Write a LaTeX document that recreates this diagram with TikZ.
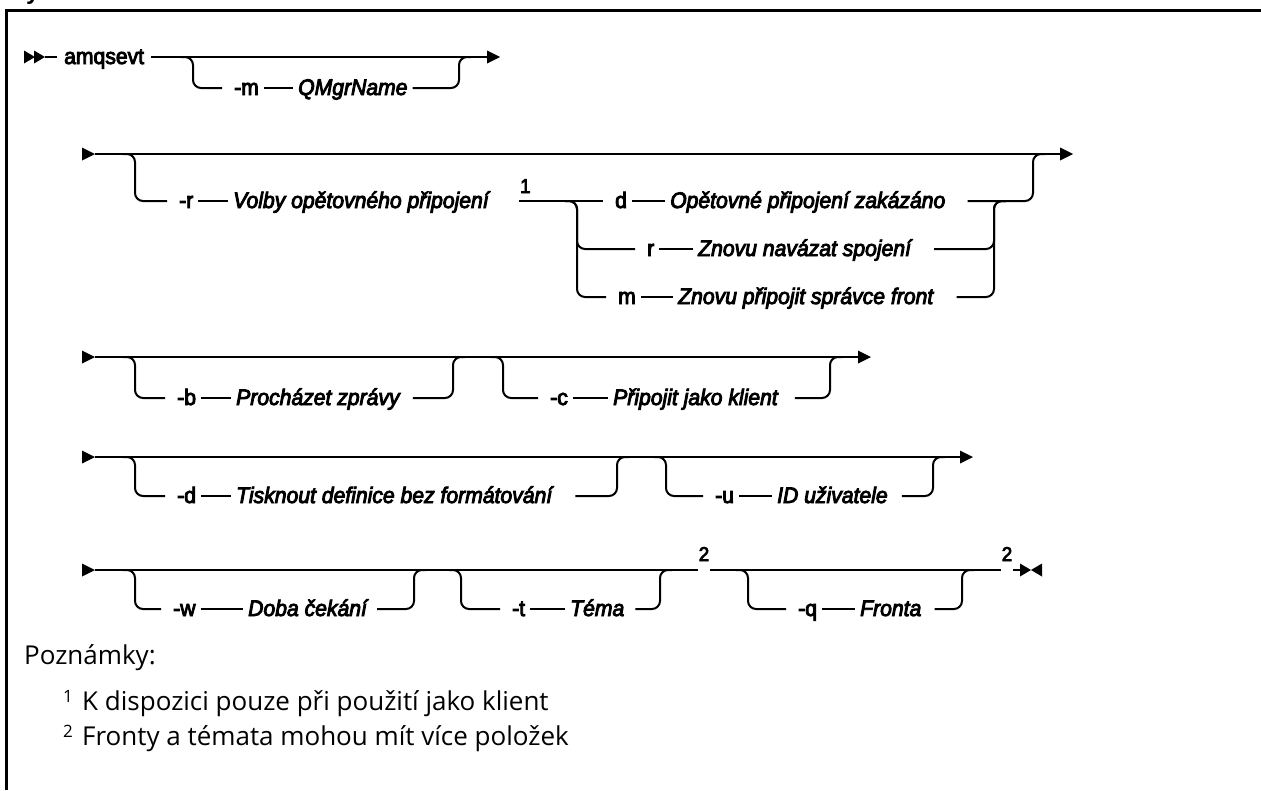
\documentclass[tikz,border=0pt]{standalone}
\usepackage{fontspec}
\setmainfont{Liberation Sans}[FakeBold=4, FakeStretch=0.94]
\newfontfamily\notefont{Open Sans}
\newfontfamily\headfont{Liberation Sans}
\usetikzlibrary{calc}
\tikzset{
  ln/.style={line width=2pt},
  br/.style={line width=2pt, rounded corners=8pt},
  frameline/.style={line width=2.7pt},
  txt/.style={inner xsep=5pt, inner ysep=0pt, text height=17pt, text depth=3pt, anchor=west, font=\fontsize{22.5}{26}\selectfont},
  flag/.style={txt},
  lab/.style={txt, font=\fontsize{22.5}{26}\selectfont\itshape},
  refnum/.style={inner xsep=1pt, inner ysep=0pt, anchor=base, font=\fontsize{20}{22}\selectfont},
  notetxt/.style={inner sep=0pt, anchor=base west, font=\notefont\fontsize{26}{30}\selectfont},
  notesup/.style={inner sep=0pt, anchor=base west, font=\notefont\fontsize{17}{19}\selectfont},
  rtri/.pic={\fill (-13,-6.5) -- (0,0) -- (-13,6.5) -- cycle;},
  ltri/.pic={\fill (11,-6.5) -- (0,0) -- (11,6.5) -- cycle;},
  rtris/.pic={\fill (-11,-6.5) -- (0,0) -- (-11,6.5) -- cycle;},
  into/.style={shorten >=7pt},
  outof/.style={shorten <=#1},
}
\begin{document}
\begin{tikzpicture}[x=1pt,y=-1pt]
\useasboundingbox (0,0) rectangle (1261,790);
% frame
\coordinate (fbl) at (6.5,790);
\coordinate (ftl) at (6.5,10.8);
\coordinate (ftr) at (1261,10.8);
\draw[frameline] (fbl) -- (ftl) -- (ftr);
\begin{scope}
\clip (0,0) rectangle (1261,790);
\node[inner sep=0pt, anchor=base west, font=\headfont\bfseries\fontsize{24}{28}\selectfont] (hd) at (26,-0.5) {y};
\end{scope}

% ---------------- Row 1
\coordinate (s1) at (45,57);
\coordinate (e1) at (500,57);
\pic at (35,57) {rtris};
\pic at (s1) {rtris};
\node[flag, inner xsep=7pt] (amq) at (57,57) {amqsevt};
\draw[ln] (s1) -- (amq.west);
\draw[ln, shorten >=6pt] (amq.east) -- (e1);
\pic at (e1) {rtri};
\coordinate (v1a) at (193,57);
\coordinate (v1b) at (459,57);
\node[flag] (mf) at (229,88) {-m};
\node[lab] (ml) at (293,88) {QMgrName};
\draw[br, into] ($(v1a)+(-12,0)$) -- (v1a) |- (mf.west);
\draw[ln] (mf.east) -- (ml.west);
\draw[br] (ml.east) -| (v1b) -- ++(12,0);

% ---------------- Row 2
\coordinate (s2) at (95,154);
\coordinate (e2) at (1073,154);
\pic at (s2) {rtri};
\draw[ln, shorten >=6pt] (s2) -- (e2);
\pic at (e2) {rtri};
\coordinate (v2a) at (135,154);
\node[flag] (rf) at (174,201) {-r};
\node[lab] (rl) at (228,201) {Volby opětovného připojení};
\node[refnum, anchor=base west] (n1) at (519,193) {1};
\draw[br, into] ($(v2a)+(-12,0)$) -- (v2a) |- (rf.west);
\draw[ln] (rf.east) -- (rl.west);
\coordinate (k2) at (577,201);
\node[flag] (df) at (610,201) {d};
\node[lab] (dl) at (665,201) {Opětovné připojení zakázáno};
\node[flag] (rrf) at (642,249) {r};
\node[lab] (rrl) at (693,249) {Znovu navázat spojení};
\node[flag] (mmf) at (613,297) {m};
\node[lab] (mml) at (673,297) {Znovu připojit správce front};
\draw[ln, into] (n1.west |- k2) -- (df.west);
\draw[br, into] ($(k2)+(-12,0)$) -- (k2) |- (rrf.west);
\draw[br, into] ($(k2)+(-12,0)$) -- (k2) |- (mmf.west);
\draw[ln] (df.east) -- (dl.west);
\draw[ln] (rrf.east) -- (rrl.west);
\draw[ln] (mmf.east) -- (mml.west);
\coordinate (j2) at (994,201);
\draw[br, outof=18pt] (rrl.east) -| (j2) -- ++(12,0);
\draw[br, outof=18pt] (mml.east) -| (j2) -- ++(12,0);
\coordinate (u2) at (1033,154);
\draw[br, outof=17pt] (dl.east) -| (u2) -- ++(12,0);

% ---------------- Row 3
\coordinate (s3) at (95,357);
\coordinate (e3) at (871,357);
\pic at (s3) {rtri};
\draw[ln, shorten >=6pt] (s3) -- (e3);
\pic at (e3) {rtri};
\coordinate (v3a) at (135,357);
\coordinate (v3b) at (453,357);
\node[flag] (bf) at (172,398) {-b};
\node[lab] (bl) at (231,398) {Procházet zprávy};
\draw[br, into] ($(v3a)+(-12,0)$) -- (v3a) |- (bf.west);
\draw[ln] (bf.east) -- (bl.west);
\draw[br, outof=8pt] (bl.east) -| (v3b) -- ++(12,0);
\coordinate (v3c) at (503,357);
\coordinate (v3d) at (830,357);
\node[flag] (cf) at (545,398) {-c};
\node[lab] (cl) at (608,398) {Připojit jako klient};
\draw[br, into] ($(v3c)+(-12,0)$) -- (v3c) |- (cf.west);
\draw[ln] (cf.east) -- (cl.west);
\draw[br, outof=12pt] (cl.east) -| (v3d) -- ++(12,0);

% ---------------- Row 4
\coordinate (s4) at (95,457);
\coordinate (e4) at (973,457);
\pic at (s4) {rtri};
\draw[ln, shorten >=6pt] (s4) -- (e4);
\pic at (e4) {rtri};
\coordinate (v4a) at (135,457);
\coordinate (v4b) at (617,457);
\node[flag] (df4) at (172,496) {-d};
\node[lab] (dl4) at (231,496) {Tisknout definice bez formátování};
\draw[br, into] ($(v4a)+(-12,0)$) -- (v4a) |- (df4.west);
\draw[ln] (df4.east) -- (dl4.west);
\draw[br, outof=18pt] (dl4.east) -| (v4b) -- ++(12,0);
\coordinate (v4c) at (666,457);
\coordinate (v4d) at (933,457);
\node[flag] (uf) at (710,496) {-u};
\node[lab] (ul) at (772,496) {ID uživatele};
\draw[br, into] ($(v4c)+(-12,0)$) -- (v4c) |- (uf.west);
\draw[ln] (uf.east) -- (ul.west);
\draw[br, outof=9pt] (ul.east) -| (v4d) -- ++(12,0);

% ---------------- Row 5
\coordinate (s5) at (95,570);
\coordinate (x5) at (1020,570);
\pic at (s5) {rtri};
\node[refnum] (n2a) at (704,561) {2};
\node[refnum] (n2b) at (1007,561) {2};
\draw[ln] (s5) -- (n2a.west |- s5);
\draw[ln] (n2a.east |- s5) -- (n2b.west |- s5);
\draw[ln] (n2b.east |- s5) -- (x5);
\pic at (1031,570) {rtris};
\pic at (1031,570) {ltri};
\coordinate (v5a) at (135,570);
\coordinate (v5b) at (414,570);
\node[flag] (wf) at (168,609) {-w};
\node[lab] (wl) at (243,609) {Doba čekání};
\draw[br, into] ($(v5a)+(-12,0)$) -- (v5a) |- (wf.west);
\draw[ln] (wf.east) -- (wl.west);
\draw[br, outof=5pt] (wl.east) -| (v5b) -- ++(12,0);
\coordinate (v5c) at (461,570);
\coordinate (v5d) at (660,570);
\node[flag] (tf) at (507,609) {-t};
\node[lab] (tl) at (565,609) {Téma};
\draw[br, into] ($(v5c)+(-12,0)$) -- (v5c) |- (tf.west);
\draw[ln] (tf.east) -- (tl.west);
\draw[br, outof=6pt] (tl.east) -| (v5d) -- ++(12,0);
\coordinate (v5e) at (748,570);
\coordinate (v5f) at (962,570);
\node[flag] (qf) at (793,609) {-q};
\node[lab] (ql) at (855,609) {Fronta};
\draw[br, into] ($(v5e)+(-12,0)$) -- (v5e) |- (qf.west);
\draw[ln] (qf.east) -- (ql.west);
\draw[br, outof=8pt] (ql.east) -| (v5f) -- ++(12,0);

% ---------------- Notes
\node[notetxt] (pz) at (24,664) {Poznámky:};
\node[notesup] (sn1) at (63,702) {1};
\node[notetxt] (nt1) at (82,710) {K dispozici pouze při použití jako klient};
\node[notesup] (sn2) at (63,737) {2};
\node[notetxt] (nt2) at (82,745) {Fronty a témata mohou mít více položek};
\end{tikzpicture}
\end{document}
